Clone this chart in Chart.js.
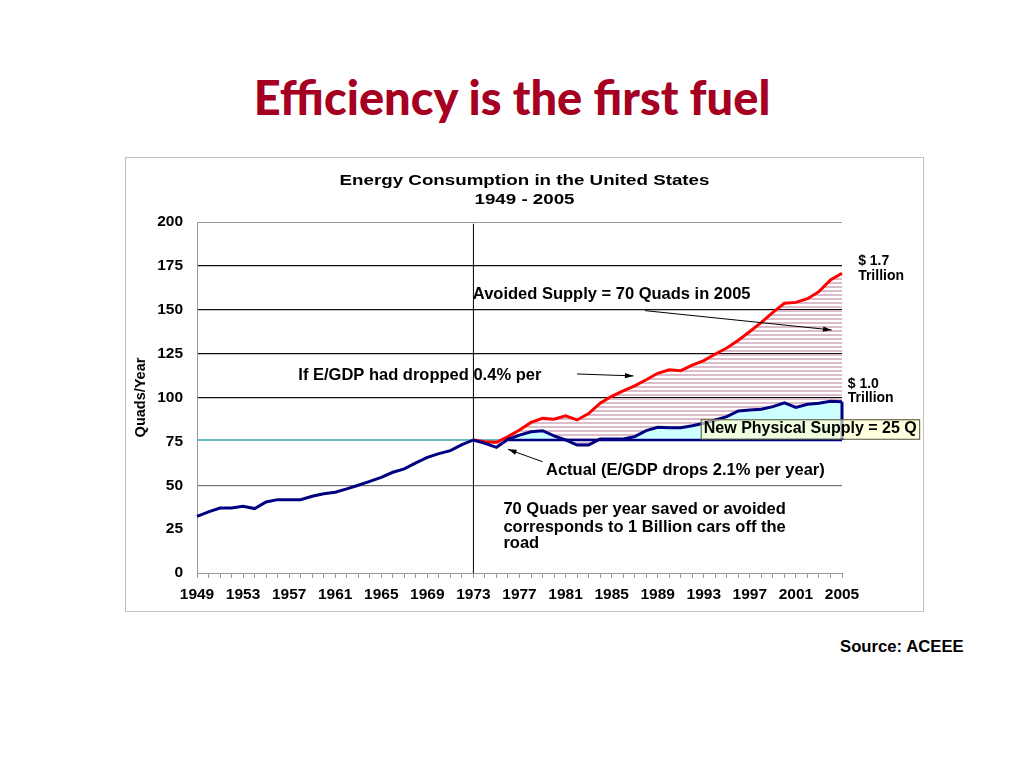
<!DOCTYPE html>
<html>
<head>
<meta charset="utf-8">
<script src="https://cdn.jsdelivr.net/npm/chart.js@4.4.0/dist/chart.umd.min.js"></script>
<style>
  body { margin: 0; width: 1024px; height: 768px; background: #fff; position: relative; overflow: hidden;
         font-family: "Liberation Sans", Arial, sans-serif; }
  #title { position: absolute; left: 0; top: 65px; width: 1024px; margin: 0; text-align: center;
           font-family: Lato, "Open Sans", sans-serif; font-weight: 900; font-size: 47px; line-height: 64px; color: #a50021; }
  #box { position: absolute; left: 125px; top: 157px; width: 797px; height: 453px; border: 1px solid #c0c0c0; }
  #source { position: absolute; left: 840px; top: 637px; font-weight: bold; font-size: 16.7px; color: #000; }
</style>
</head>
<body>
<h1 id="title">Efficiency is the first fuel</h1>
<div id="box"><canvas id="chart" width="797" height="453"></canvas></div>
<div id="source">Source: ACEEE</div>

<script>
// years on the x axis
let years = [
  1949, 1950, 1951, 1952, 1953, 1954, 1955, 1956, 1957, 1958, 1959, 1960,
  1961, 1962, 1963, 1964, 1965, 1966, 1967, 1968, 1969, 1970, 1971, 1972,
  1973, 1974, 1975, 1976, 1977, 1978, 1979, 1980, 1981, 1982, 1983, 1984,
  1985, 1986, 1987, 1988, 1989, 1990, 1991, 1992, 1993, 1994, 1995, 1996,
  1997, 1998, 1999, 2000, 2001, 2002, 2003, 2004, 2005
];

// actual consumption (quads/year)
let actual = [
  32.3, 34.8, 37.0, 37.0, 38.0, 36.7, 40.5, 41.8, 41.8, 41.8, 43.7, 45.2,
  46.0, 47.9, 50.0, 52.2, 54.5, 57.4, 59.3, 62.7, 65.9, 68.0, 69.7, 73.1,
  75.8, 73.9, 71.6, 76.2, 78.6, 80.5, 81.1, 78.1, 75.8, 72.9, 72.9, 76.4,
  76.4, 76.4, 77.7, 81.1, 83.0, 82.8, 82.8, 83.9, 85.3, 87.2, 89.1, 92.3,
  92.9, 93.3, 94.8, 97.0, 94.4, 96.1, 96.7, 97.8, 97.6
];

// if E/GDP had dropped 0.4% per year (from 1973)
let projected = [
  null, null, null, null, null, null, null, null, null, null, null, null,
  null, null, null, null, null, null, null, null, null, null, null, null,
  75.8, 74.8, 74.5, 77.7, 81.5, 85.8, 88.1, 87.6, 89.5, 87.2, 90.8, 96.8,
  100.7, 103.8, 106.6, 110.1, 113.8, 115.8, 115.3, 118.5, 121.0, 124.8, 128.2, 132.6,
  137.6, 142.8, 148.5, 153.7, 154.2, 156.3, 160.3, 167.0, 170.8
];

// 1973 level line
let level1973 = [
  75.8, 75.8, 75.8, 75.8, 75.8, 75.8, 75.8, 75.8, 75.8, 75.8, 75.8, 75.8,
  75.8, 75.8, 75.8, 75.8, 75.8, 75.8, 75.8, 75.8, 75.8, 75.8, 75.8, 75.8,
  75.8, 75.8, 75.8, 75.8, 75.8, 75.8, 75.8, 75.8, 75.8, 75.8, 75.8, 75.8,
  75.8, 75.8, 75.8, 75.8, 75.8, 75.8, 75.8, 75.8, 75.8, 75.8, 75.8, 75.8,
  75.8, 75.8, 75.8, 75.8, 75.8, 75.8, 75.8, 75.8, 75.8
];

// bottom edge of the "new physical supply" area
let supplyBase = [
  null, null, null, null, null, null, null, null, null, null, null, null,
  null, null, null, null, null, null, null, null, null, null, null, null,
  null, null, null, 75.8, 75.8, 75.8, 75.8, 75.8, 75.8, 75.8, 75.8, 75.8,
  75.8, 75.8, 75.8, 75.8, 75.8, 75.8, 75.8, 75.8, 75.8, 75.8, 75.8, 75.8,
  75.8, 75.8, 75.8, 75.8, 75.8, 75.8, 75.8, 75.8, 75.8
];

let yTicks = [0, 25, 50, 75, 100, 125, 150, 175, 200];
let markYear = 1973;

const FONT = '"Liberation Sans", Arial, sans-serif';

// horizontal pink stripes for the avoided supply area
function stripes() {
  let c = document.createElement("canvas");
  c.width = 4;
  c.height = 4;
  let g = c.getContext("2d");
  g.fillStyle = "#dcbccb";
  g.fillRect(0, 0, 4, 2);
  return g.createPattern(c, "repeat");
}

function text(ctx, str, x, y, size, sx, align) {
  ctx.save();
  ctx.font = "bold " + size + "px " + FONT;
  ctx.fillStyle = "#000";
  ctx.textBaseline = "middle";
  ctx.textAlign = align || "left";
  ctx.translate(x, y);
  ctx.scale(sx || 1, 1);
  ctx.fillText(str, 0, 0);
  ctx.restore();
}

function arrow(ctx, x1, y1, x2, y2) {
  ctx.save();
  ctx.strokeStyle = "#000";
  ctx.fillStyle = "#000";
  ctx.lineWidth = 1;
  ctx.beginPath();
  ctx.moveTo(x1, y1);
  ctx.lineTo(x2, y2);
  ctx.stroke();
  let a = Math.atan2(y2 - y1, x2 - x1);
  ctx.beginPath();
  ctx.moveTo(x2, y2);
  ctx.lineTo(x2 - 9 * Math.cos(a - 0.3), y2 - 9 * Math.sin(a - 0.3));
  ctx.lineTo(x2 - 9 * Math.cos(a + 0.3), y2 - 9 * Math.sin(a + 0.3));
  ctx.closePath();
  ctx.fill();
  ctx.restore();
}

// annotation positions in chart units (year, quads)
let labels = [
  { t: "Avoided Supply = 70 Quads in 2005", yr: 1972.95, v: 159.0, size: 16.5 },
  { t: "If E/GDP had dropped 0.4% per", yr: 1957.8, v: 112.3, size: 16.5 },
  { t: "Actual (E/GDP drops 2.1% per year)", yr: 1979.3, v: 58.3, size: 16.5 },
  { t: "70 Quads per year saved or avoided", yr: 1975.6, v: 36.0, size: 16.5 },
  { t: "corresponds to 1 Billion cars off the", yr: 1975.6, v: 26.1, size: 16.5 },
  { t: "road", yr: 1975.6, v: 16.6, size: 16.5 },
  { t: "$ 1.7", yr: 2006.4, v: 177.8, size: 14 },
  { t: "Trillion", yr: 2006.4, v: 169.4, size: 14 },
  { t: "$ 1.0", yr: 2005.5, v: 107.7, size: 14 },
  { t: "Trillion", yr: 2005.5, v: 99.5, size: 14 }
];
let arrows = [
  [1987.9, 149.5, 2004.1, 138.5],
  [1982.0, 113.4, 1986.9, 112.3],
  [1979.0, 63.4, 1976.0, 70.5]
];

const notes = {
  id: "notes",
  beforeDatasetsDraw(chart) {
    let { ctx, scales: { x, y } } = chart;
    let px = x.getPixelForValue(years.indexOf(markYear));
    ctx.save();
    ctx.strokeStyle = "#000";
    ctx.lineWidth = 1;
    ctx.beginPath();
    ctx.moveTo(px, y.getPixelForValue(199));
    ctx.lineTo(px, y.getPixelForValue(0));
    ctx.stroke();
    ctx.restore();
  },
  afterDatasetsDraw(chart) {
    let { ctx, scales: { x, y } } = chart;
    let last = years.length - 1;
    let px = x.getPixelForValue(last);
    ctx.save();
    ctx.strokeStyle = "#000080";
    ctx.lineWidth = 3;
    ctx.beginPath();
    ctx.moveTo(px, y.getPixelForValue(actual[last]));
    ctx.lineTo(px, y.getPixelForValue(supplyBase[last]));
    ctx.stroke();
    ctx.restore();
  },
  afterDraw(chart) {
    let { ctx, scales: { x, y } } = chart;
    let X = (yr) => x.getPixelForValue(yr - years[0]);
    let Y = (v) => y.getPixelForValue(v);

    // chart title
    text(ctx, "Energy Consumption in the United States", chart.width / 2, 23, 15, 1.25, "center");
    text(ctx, "1949 - 2005", chart.width / 2, 42, 15, 1.25, "center");

    labels.forEach((l) => text(ctx, l.t, X(l.yr), Y(l.v), l.size));
    arrows.forEach((a) => arrow(ctx, X(a[0]), Y(a[1]), X(a[2]), Y(a[3])));

    // new physical supply box
    let bx = X(1992.73), by = Y(87.6);
    let bw = X(2011.7) - bx, bh = Y(76.5) - by;
    ctx.save();
    ctx.fillStyle = "rgba(255,255,204,0.65)";
    ctx.fillRect(bx, by, bw, bh);
    ctx.strokeStyle = "#4d4d33";
    ctx.lineWidth = 1;
    ctx.strokeRect(bx + 0.5, by + 0.5, bw, bh);
    ctx.restore();
    text(ctx, "New Physical Supply = 25 Q", X(1993.0), Y(82.1), 16);
  }
};

let ctx = document.getElementById("chart").getContext("2d");
let myChart = new Chart(ctx, {
  type: "line",
  data: {
    labels: years.map(String),
    datasets: [
      {
        label: "Actual",
        data: actual,
        borderColor: "#000080",
        borderWidth: 3,
        pointRadius: 0,
        fill: { target: { value: 75.8 }, above: "#ccffff", below: "rgba(0,0,0,0)" }
      },
      {
        label: "If E/GDP had dropped 0.4% per year",
        data: projected,
        borderColor: "#ff0000",
        borderWidth: 3,
        pointRadius: 0,
        fill: { target: 0, above: stripes(), below: "rgba(0,0,0,0)" }
      },
      {
        label: "1973 level",
        data: level1973,
        borderColor: "#3aa8a8",
        borderWidth: 1.5,
        pointRadius: 0,
        fill: false
      },
      {
        label: "Supply base",
        data: supplyBase,
        borderColor: "#000080",
        borderWidth: 2.5,
        pointRadius: 0,
        fill: false,
        order: -1
      }
    ]
  },
  options: {
    responsive: false,
    animation: false,
    layout: { padding: { top: 64, right: 81, left: 0, bottom: 0 } },
    plugins: {
      legend: { display: false },
      tooltip: { enabled: false },
      title: { display: false }
    },
    scales: {
      x: {
        offset: false,
        afterFit: (s) => { s.height = 38; },
        grid: { drawOnChartArea: false, drawTicks: true, tickLength: 5, tickColor: "#999" },
        border: { color: "#999" },
        ticks: {
          autoSkip: false,
          maxRotation: 0,
          padding: 7,
          color: "#000",
          font: { family: FONT, size: 15.5, weight: "bold" },
          callback: (val, i) => (i % 4 === 0 ? years[i] : "")
        }
      },
      y: {
        min: yTicks[0],
        max: yTicks[yTicks.length - 1],
        afterFit: (s) => { s.width = 71; },
        afterBuildTicks: (s) => { s.ticks = yTicks.map((v) => ({ value: v })); },
        title: {
          display: true,
          text: "Quads/Year",
          color: "#000",
          padding: { top: 6, bottom: 0 },
          font: { family: FONT, size: 14.5, weight: "bold" }
        },
        border: { color: "#999" },
        grid: {
          drawTicks: false,
          color: (c) => {
            let v = c.tick.value;
            if (v === 25 || v === 75) return "rgba(0,0,0,0)";
            if (v === 200 || v === 0) return "#999";
            if (v === 50) return "#777";
            return "#111";
          },
          lineWidth: (c) => (c.tick.value === 200 || c.tick.value === 0 ? 1 : 1.3)
        },
        ticks: {
          padding: 14,
          color: "#000",
          font: { family: FONT, size: 15.5, weight: "bold" }
        }
      }
    }
  },
  plugins: [notes]
});
</script>
</body>
</html>
